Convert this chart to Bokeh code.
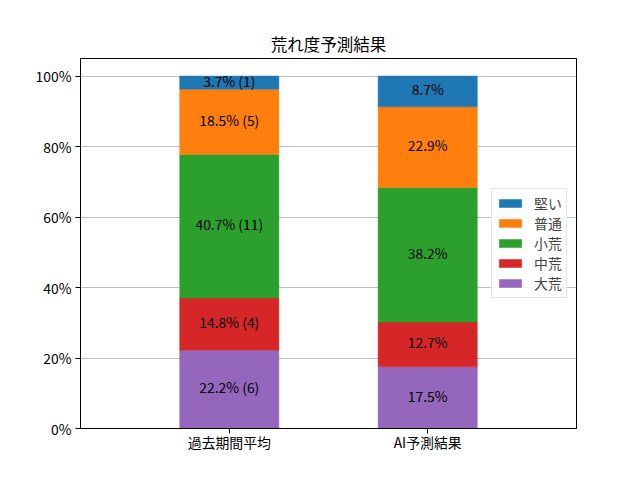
from bokeh.plotting import figure
from bokeh.models import (ColumnDataSource, Range1d, FixedTicker, PrintfTickFormatter,
                          Legend, LegendItem, LabelSet)
from bokeh.core.properties import value
from bokeh.embed import file_html
from bokeh.resources import INLINE

# ---- data ----
categories = ["過去期間平均", "AI予測結果"]
levels = ["大荒", "中荒", "小荒", "普通", "堅い"]          # stacking order (bottom -> top)
colors = ["#9467bd", "#d62728", "#2ca02c", "#ff7f0e", "#1f77b4"]
past_counts = [6, 4, 11, 5, 1]
ai_pct = [17.5, 12.7, 38.2, 22.9, 8.7]
y_ticks = [0, 20, 40, 60, 80, 100]

total = sum(past_counts)
past_pct = [c / total * 100 for c in past_counts]

FONT = "Noto Sans CJK JP"

p = figure(width=640, height=480, output_backend="svg", toolbar_location=None,
           x_range=Range1d(-0.75, 1.75), y_range=Range1d(0, 105),
           min_border_left=80, min_border_right=64, min_border_top=58, min_border_bottom=52,
           title="荒れ度予測結果")
p.title.align = "center"
p.title.text_font = FONT
p.title.text_font_size = "16.5px"
p.title.text_font_style = "normal"
p.title.text_color = "black"
p.title.standoff = 5

p.outline_line_color = "black"
p.outline_line_width = 1
p.background_fill_color = "white"
p.border_fill_color = "white"

xs = list(range(len(categories)))
renderers = []
label_x, label_y, label_t = [], [], []
for i, lv in enumerate(levels):
    bottoms = [sum(past_pct[:i]), sum(ai_pct[:i])]
    tops = [bottoms[0] + past_pct[i], bottoms[1] + ai_pct[i]]
    src = ColumnDataSource(dict(x=xs, bottom=bottoms, top=tops))
    r = p.vbar(x="x", bottom="bottom", top="top", width=0.5, source=src,
               fill_color=colors[i], line_color=colors[i], line_width=0.5)
    renderers.append(r)
    label_x += xs
    label_y += [(b + t) / 2 for b, t in zip(bottoms, tops)]
    label_t += [f"{past_pct[i]:.1f}% ({past_counts[i]})", f"{ai_pct[i]:.1f}%"]

lab_src = ColumnDataSource(dict(x=label_x, y=label_y, t=label_t))
labels = LabelSet(x="x", y="y", text="t", source=lab_src, text_align="center",
                  text_baseline="middle", text_font=value(FONT), text_font_size=value("13.9px"),
                  text_color="black", y_offset=2)
p.add_layout(labels)

# axes
p.xaxis.ticker = FixedTicker(ticks=xs)
p.xaxis.major_label_overrides = {i: c for i, c in enumerate(categories)}
p.yaxis.ticker = FixedTicker(ticks=y_ticks)
p.yaxis.formatter = PrintfTickFormatter(format="%d%%")
for ax in (p.xaxis, p.yaxis):
    ax.major_label_text_font = FONT
    ax.major_label_text_font_size = "13.9px"
    ax.major_label_text_color = "black"
    ax.major_tick_out = 5
    ax.major_tick_in = 0
    ax.minor_tick_out = 0
    ax.minor_tick_in = 0
    ax.axis_line_color = "black"
    ax.major_tick_line_color = "black"
p.yaxis.major_label_standoff = 4
p.xaxis.major_label_standoff = -2

p.xgrid.grid_line_color = None
p.ygrid.grid_line_color = "#b0b0b0"
p.ygrid.grid_line_width = 0.8

items = [LegendItem(label=levels[i], renderers=[renderers[i]]) for i in reversed(range(len(levels)))]
legend = Legend(items=items, location=(411, 130))
legend.label_text_font = FONT
legend.label_text_font_size = "13.9px"
legend.glyph_width = 28
legend.glyph_height = 10
legend.label_standoff = 10
legend.label_height = 14
legend.spacing = 0
legend.padding = 4
legend.margin = 0
legend.border_line_color = "#cccccc"
legend.border_line_width = 1
legend.background_fill_alpha = 0.8
p.add_layout(legend)

open("out.html", "w").write(file_html(p, INLINE))
